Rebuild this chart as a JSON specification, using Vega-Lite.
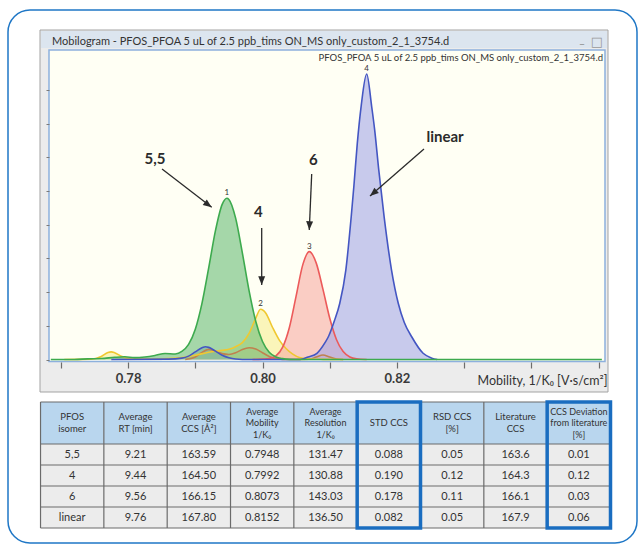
{
  "$schema": "https://vega.github.io/schema/vega-lite/v6.json",
  "width": 629,
  "height": 533,
  "autosize": {"type": "none"},
  "padding": {"left": 8, "top": 10, "right": 1, "bottom": 2},
  "background": "white",
  "config": {
    "view": {"stroke": "#1f77c6", "strokeWidth": 1.5, "cornerRadius": 22, "fill": "white"},
    "text": {"font": "Lato"}
  },
  "datasets": {
    "traces": [
      {"series": "background", "mobility": 0.7885, "intensity": 0},
      {"series": "background", "mobility": 0.79, "intensity": 150},
      {"series": "background", "mobility": 0.791, "intensity": 420},
      {"series": "background", "mobility": 0.792, "intensity": 600},
      {"series": "background", "mobility": 0.793, "intensity": 500},
      {"series": "background", "mobility": 0.794, "intensity": 350},
      {"series": "background", "mobility": 0.795, "intensity": 300},
      {"series": "background", "mobility": 0.796, "intensity": 400},
      {"series": "background", "mobility": 0.797, "intensity": 600},
      {"series": "background", "mobility": 0.798, "intensity": 700},
      {"series": "background", "mobility": 0.799, "intensity": 620},
      {"series": "background", "mobility": 0.8, "intensity": 400},
      {"series": "background", "mobility": 0.801, "intensity": 180},
      {"series": "background", "mobility": 0.802, "intensity": 50},
      {"series": "background", "mobility": 0.804, "intensity": 0},
      {"series": "background", "mobility": 0.807, "intensity": 20},
      {"series": "background", "mobility": 0.808, "intensity": 150},
      {"series": "background", "mobility": 0.809, "intensity": 270},
      {"series": "background", "mobility": 0.81, "intensity": 150},
      {"series": "background", "mobility": 0.811, "intensity": 30},
      {"series": "background", "mobility": 0.812, "intensity": 0},

      {"series": "4", "mobility": 0.7705, "intensity": 0},
      {"series": "4", "mobility": 0.7745, "intensity": 20},
      {"series": "4", "mobility": 0.776, "intensity": 180},
      {"series": "4", "mobility": 0.777, "intensity": 420},
      {"series": "4", "mobility": 0.7775, "intensity": 450},
      {"series": "4", "mobility": 0.778, "intensity": 400},
      {"series": "4", "mobility": 0.779, "intensity": 190},
      {"series": "4", "mobility": 0.78, "intensity": 60},
      {"series": "4", "mobility": 0.781, "intensity": 20},
      {"series": "4", "mobility": 0.7835, "intensity": 20},
      {"series": "4", "mobility": 0.786, "intensity": 50},
      {"series": "4", "mobility": 0.788, "intensity": 110},
      {"series": "4", "mobility": 0.79, "intensity": 250},
      {"series": "4", "mobility": 0.792, "intensity": 430},
      {"series": "4", "mobility": 0.794, "intensity": 540},
      {"series": "4", "mobility": 0.795, "intensity": 610},
      {"series": "4", "mobility": 0.796, "intensity": 760},
      {"series": "4", "mobility": 0.797, "intensity": 1000},
      {"series": "4", "mobility": 0.798, "intensity": 1550},
      {"series": "4", "mobility": 0.799, "intensity": 2450},
      {"series": "4", "mobility": 0.7997, "intensity": 2980},
      {"series": "4", "mobility": 0.8005, "intensity": 2750},
      {"series": "4", "mobility": 0.8015, "intensity": 1900},
      {"series": "4", "mobility": 0.8025, "intensity": 1150},
      {"series": "4", "mobility": 0.8035, "intensity": 650},
      {"series": "4", "mobility": 0.8045, "intensity": 320},
      {"series": "4", "mobility": 0.8055, "intensity": 120},
      {"series": "4", "mobility": 0.807, "intensity": 30},
      {"series": "4", "mobility": 0.809, "intensity": 10},
      {"series": "4", "mobility": 0.812, "intensity": 0},

      {"series": "6", "mobility": 0.7985, "intensity": 0},
      {"series": "6", "mobility": 0.8, "intensity": 20},
      {"series": "6", "mobility": 0.801, "intensity": 50},
      {"series": "6", "mobility": 0.802, "intensity": 210},
      {"series": "6", "mobility": 0.803, "intensity": 730},
      {"series": "6", "mobility": 0.804, "intensity": 1900},
      {"series": "6", "mobility": 0.805, "intensity": 3760},
      {"series": "6", "mobility": 0.806, "intensity": 5630},
      {"series": "6", "mobility": 0.80696, "intensity": 6400},
      {"series": "6", "mobility": 0.808, "intensity": 5720},
      {"series": "6", "mobility": 0.809, "intensity": 4160},
      {"series": "6", "mobility": 0.81, "intensity": 2460},
      {"series": "6", "mobility": 0.811, "intensity": 1190},
      {"series": "6", "mobility": 0.812, "intensity": 470},
      {"series": "6", "mobility": 0.813, "intensity": 150},
      {"series": "6", "mobility": 0.814, "intensity": 40},
      {"series": "6", "mobility": 0.8155, "intensity": 0},

      {"series": "linear", "mobility": 0.7775, "intensity": 0},
      {"series": "linear", "mobility": 0.786, "intensity": 20},
      {"series": "linear", "mobility": 0.788, "intensity": 80},
      {"series": "linear", "mobility": 0.789, "intensity": 200},
      {"series": "linear", "mobility": 0.79, "intensity": 450},
      {"series": "linear", "mobility": 0.791, "intensity": 700},
      {"series": "linear", "mobility": 0.7915, "intensity": 760},
      {"series": "linear", "mobility": 0.792, "intensity": 720},
      {"series": "linear", "mobility": 0.793, "intensity": 500},
      {"series": "linear", "mobility": 0.794, "intensity": 250},
      {"series": "linear", "mobility": 0.795, "intensity": 100},
      {"series": "linear", "mobility": 0.796, "intensity": 30},
      {"series": "linear", "mobility": 0.798, "intensity": 0},
      {"series": "linear", "mobility": 0.8056, "intensity": 0},
      {"series": "linear", "mobility": 0.8068, "intensity": 150},
      {"series": "linear", "mobility": 0.8081, "intensity": 370},
      {"series": "linear", "mobility": 0.8093, "intensity": 1000},
      {"series": "linear", "mobility": 0.8098, "intensity": 1350},
      {"series": "linear", "mobility": 0.8107, "intensity": 2300},
      {"series": "linear", "mobility": 0.8115, "intensity": 3340},
      {"series": "linear", "mobility": 0.8124, "intensity": 5310},
      {"series": "linear", "mobility": 0.8132, "intensity": 8470},
      {"series": "linear", "mobility": 0.8136, "intensity": 10300},
      {"series": "linear", "mobility": 0.8141, "intensity": 12800},
      {"series": "linear", "mobility": 0.8147, "intensity": 15100},
      {"series": "linear", "mobility": 0.8155, "intensity": 16940},
      {"series": "linear", "mobility": 0.81625, "intensity": 15000},
      {"series": "linear", "mobility": 0.8167, "intensity": 13600},
      {"series": "linear", "mobility": 0.8173, "intensity": 11250},
      {"series": "linear", "mobility": 0.8181, "intensity": 8470},
      {"series": "linear", "mobility": 0.8192, "intensity": 5310},
      {"series": "linear", "mobility": 0.8202, "intensity": 3340},
      {"series": "linear", "mobility": 0.8211, "intensity": 2200},
      {"series": "linear", "mobility": 0.8222, "intensity": 1350},
      {"series": "linear", "mobility": 0.8239, "intensity": 370},
      {"series": "linear", "mobility": 0.8252, "intensity": 80},
      {"series": "linear", "mobility": 0.826, "intensity": 0},

      {"series": "5,5", "mobility": 0.7685, "intensity": 0},
      {"series": "5,5", "mobility": 0.772, "intensity": 0},
      {"series": "5,5", "mobility": 0.774, "intensity": 40},
      {"series": "5,5", "mobility": 0.776, "intensity": 60},
      {"series": "5,5", "mobility": 0.778, "intensity": 130},
      {"series": "5,5", "mobility": 0.7795, "intensity": 160},
      {"series": "5,5", "mobility": 0.781, "intensity": 110},
      {"series": "5,5", "mobility": 0.7825, "intensity": 150},
      {"series": "5,5", "mobility": 0.784, "intensity": 240},
      {"series": "5,5", "mobility": 0.7855, "intensity": 360},
      {"series": "5,5", "mobility": 0.787, "intensity": 330},
      {"series": "5,5", "mobility": 0.788, "intensity": 480},
      {"series": "5,5", "mobility": 0.789, "intensity": 900},
      {"series": "5,5", "mobility": 0.79, "intensity": 1800},
      {"series": "5,5", "mobility": 0.791, "intensity": 3350},
      {"series": "5,5", "mobility": 0.792, "intensity": 5450},
      {"series": "5,5", "mobility": 0.793, "intensity": 7650},
      {"series": "5,5", "mobility": 0.794, "intensity": 9210},
      {"series": "5,5", "mobility": 0.7947, "intensity": 9570},
      {"series": "5,5", "mobility": 0.795, "intensity": 9500},
      {"series": "5,5", "mobility": 0.796, "intensity": 8390},
      {"series": "5,5", "mobility": 0.797, "intensity": 6330},
      {"series": "5,5", "mobility": 0.798, "intensity": 4090},
      {"series": "5,5", "mobility": 0.799, "intensity": 2260},
      {"series": "5,5", "mobility": 0.8, "intensity": 1070},
      {"series": "5,5", "mobility": 0.801, "intensity": 430},
      {"series": "5,5", "mobility": 0.802, "intensity": 150},
      {"series": "5,5", "mobility": 0.803, "intensity": 50},
      {"series": "5,5", "mobility": 0.804, "intensity": 10},
      {"series": "5,5", "mobility": 0.805, "intensity": 0},
      {"series": "5,5", "mobility": 0.8505, "intensity": 0}
    ],
    "annotations": [
      {"label": "5,5", "mobility": 0.784, "intensity": 11880, "fromMobility": 0.78505, "fromIntensity": 11300, "toMobility": 0.79244, "toIntensity": 9030},
      {"label": "4", "mobility": 0.79938, "intensity": 8770, "fromMobility": 0.79988, "fromIntensity": 7800, "toMobility": 0.79988, "toIntensity": 4420},
      {"label": "6", "mobility": 0.80756, "intensity": 11840, "fromMobility": 0.80732, "fromIntensity": 11010, "toMobility": 0.80696, "toIntensity": 7690},
      {"label": "linear", "mobility": 0.82716, "intensity": 13200, "fromMobility": 0.82403, "fromIntensity": 12490, "toMobility": 0.816, "toIntensity": 9700}
    ],
    "peaks": [
      {"peak": "1", "mobility": 0.7947, "intensity": 9570},
      {"peak": "2", "mobility": 0.7997, "intensity": 2980},
      {"peak": "3", "mobility": 0.80696, "intensity": 6400},
      {"peak": "4", "mobility": 0.8155, "intensity": 16940}
    ],
    "headers": [
      {"column": "PFOS isomer", "label": ["PFOS", "isomer"]},
      {"column": "Average RT", "label": ["Average", "RT [min]"]},
      {"column": "Average CCS", "label": ["Average", "CCS [Å²]"]},
      {"column": "Average Mobility", "label": ["Average", "Mobility", "1/K₀"]},
      {"column": "Average Resolution", "label": ["Average", "Resolution", "1/K₀"]},
      {"column": "STD CCS", "label": ["STD CCS"]},
      {"column": "RSD CCS", "label": ["RSD CCS", "[%]"]},
      {"column": "Literature CCS", "label": ["Literature", "CCS"]},
      {"column": "CCS Deviation", "label": ["CCS Deviation", "from literature", "[%]"]}
    ],
    "isomers": [
      {"PFOS isomer": "5,5", "Average RT": "9.21", "Average CCS": "163.59", "Average Mobility": "0.7948", "Average Resolution": "131.47", "STD CCS": "0.088", "RSD CCS": "0.05", "Literature CCS": "163.6", "CCS Deviation": "0.01"},
      {"PFOS isomer": "4", "Average RT": "9.44", "Average CCS": "164.50", "Average Mobility": "0.7992", "Average Resolution": "130.88", "STD CCS": "0.190", "RSD CCS": "0.12", "Literature CCS": "164.3", "CCS Deviation": "0.12"},
      {"PFOS isomer": "6", "Average RT": "9.56", "Average CCS": "166.15", "Average Mobility": "0.8073", "Average Resolution": "143.03", "STD CCS": "0.178", "RSD CCS": "0.11", "Literature CCS": "166.1", "CCS Deviation": "0.03"},
      {"PFOS isomer": "linear", "Average RT": "9.76", "Average CCS": "167.80", "Average Mobility": "0.8152", "Average Resolution": "136.50", "STD CCS": "0.082", "RSD CCS": "0.05", "Literature CCS": "167.9", "CCS Deviation": "0.06"}
    ],
    "rowEdges": [
      {"row": "h1"}, {"row": "5,5"}, {"row": "4"}, {"row": "6"}, {"row": "linear"}
    ],
    "highlighted": [
      {"column": "STD CCS"}, {"column": "CCS Deviation"}
    ]
  },
  "layer": [
    {
      "layer": [
        {
          "data": {"values": [{}]},
          "mark": {"type": "rect", "fill": "#ececec", "stroke": "#a3a3a3", "strokeWidth": 1},
          "encoding": {
            "x": {
              "datum": 0.76689, "type": "quantitative",
              "scale": {"domain": [0.762128, 0.855729], "nice": false, "zero": false},
              "axis": {
                "orient": "bottom", "offset": -181, "zindex": 2,
                "values": [0.77, 0.78, 0.79, 0.8, 0.81, 0.82, 0.83, 0.84, 0.85],
                "format": ".2f",
                "labelExpr": "indexof(['0.78', '0.80', '0.82'], datum.label) >= 0 ? datum.label : ''",
                "domain": false, "grid": false,
                "tickSize": 6, "tickColor": "#6d6d6d", "tickWidth": 1.2,
                "labelFont": "Lato", "labelFontSize": 13, "labelFontWeight": "bold", "labelColor": "#3a3a3a",
                "labelPadding": 4, "labelFlush": false, "labelOverlap": false,
                "title": "Mobility, 1/K₀ [V·s/cm²]",
                "titleFont": "Lato", "titleFontSize": 12.5, "titleFontWeight": "normal", "titleColor": "#333333",
                "titleX": 599, "titleY": 18, "titleAlign": "right", "titleBaseline": "middle"
              }
            },
            "x2": {"datum": 0.851414},
            "y": {
              "datum": 19555, "type": "quantitative",
              "scale": {"domain": [-10890, 20742], "nice": false, "zero": false},
              "axis": {
                "orient": "left", "offset": -41, "zindex": 2,
                "values": [0, 1000, 2000, 3000, 4000, 5000, 6000, 7000, 8000, 9000, 10000, 11000, 12000, 13000, 14000, 15000, 16000, 17000],
                "labels": false, "domain": false, "grid": false,
                "tickSize": 3, "tickColor": "#7a7a7a", "title": null
              }
            },
            "y2": {"datum": -1929}
          }
        },
        {
          "data": {"values": [{}]},
          "mark": {"type": "rect", "fill": "#dce5ef"},
          "encoding": {
            "x": {"datum": 0.767039, "type": "quantitative"},
            "x2": {"datum": 0.851265},
            "y": {"datum": 19496, "type": "quantitative"},
            "y2": {"datum": 18487}
          }
        },
        {
          "data": {"values": [{}]},
          "mark": {"type": "rect", "fill": "#fffff4", "stroke": "#8db0dd", "strokeWidth": 1.5},
          "encoding": {
            "x": {"datum": 0.768229, "type": "quantitative"},
            "x2": {"datum": 0.850967},
            "y": {"datum": 18368, "type": "quantitative"},
            "y2": {"datum": -119}
          }
        },
        {
          "data": {"name": "traces"},
          "mark": {"type": "area", "interpolate": "monotone", "fillOpacity": 0.6},
          "encoding": {
            "x": {"field": "mobility", "type": "quantitative"},
            "y": {"field": "intensity", "type": "quantitative", "stack": null},
            "y2": {"datum": 0},
            "fill": {
              "field": "series", "type": "nominal",
              "scale": {"domain": ["background", "4", "6", "linear", "5,5"], "range": ["#e6bc9b", "#f7ee93", "#f7aca3", "#a3a7e6", "#69bc76"]},
              "legend": null
            }
          }
        },
        {
          "data": {"name": "traces"},
          "mark": {"type": "line", "interpolate": "monotone", "strokeWidth": 1.6},
          "encoding": {
            "x": {"field": "mobility", "type": "quantitative"},
            "y": {"field": "intensity", "type": "quantitative"},
            "stroke": {
              "field": "series", "type": "nominal",
              "scale": {"domain": ["background", "4", "6", "linear", "5,5"], "range": ["#c0814e", "#f0c830", "#ec5a5a", "#4456c2", "#3daa4e"]},
              "legend": null
            }
          }
        },
        {
          "data": {"name": "annotations"},
          "mark": {"type": "rule", "color": "#2b2b2b", "strokeWidth": 1.3},
          "encoding": {
            "x": {"field": "fromMobility", "type": "quantitative"},
            "y": {"field": "fromIntensity", "type": "quantitative"},
            "x2": {"field": "toMobility"},
            "y2": {"field": "toIntensity"}
          }
        },
        {
          "data": {"name": "annotations"},
          "mark": {"type": "point", "filled": true, "color": "#2b2b2b", "size": 300, "opacity": 1, "strokeWidth": 0},
          "encoding": {
            "x": {"field": "toMobility", "type": "quantitative"},
            "y": {"field": "toIntensity", "type": "quantitative"},
            "shape": {
              "field": "label", "type": "nominal",
              "scale": {
                "domain": ["5,5", "4", "6", "linear"],
                "range": ["M0,0L-1.04,-0.28L-0.56,-0.92Z", "M0,0L-0.4,-1L0.4,-1Z", "M0,0L-0.36,-1.02L0.44,-0.98Z", "M0,0L0.5,-0.95L1.02,-0.34Z"]
              },
              "legend": null
            }
          }
        },
        {
          "data": {"name": "annotations"},
          "mark": {"type": "text", "font": "Lato", "fontSize": 15, "fontWeight": "bold", "color": "#2b2b2b", "align": "center", "baseline": "middle"},
          "encoding": {
            "x": {"field": "mobility", "type": "quantitative"},
            "y": {"field": "intensity", "type": "quantitative"},
            "text": {"field": "label", "type": "nominal"}
          }
        },
        {
          "data": {"name": "peaks"},
          "mark": {"type": "text", "font": "Lato", "fontSize": 8, "color": "#333333", "align": "center", "baseline": "bottom", "dy": -1},
          "encoding": {
            "x": {"field": "mobility", "type": "quantitative"},
            "y": {"field": "intensity", "type": "quantitative"},
            "text": {"field": "peak", "type": "nominal"}
          }
        },
        {
          "data": {"values": [{}]},
          "mark": {"type": "text", "text": "Mobilogram - PFOS_PFOA  5 uL of 2.5 ppb_tims ON_MS only_custom_2_1_3754.d", "font": "Lato", "fontSize": 11, "color": "#333333", "align": "left", "baseline": "middle"},
          "encoding": {
            "x": {"datum": 0.768676, "type": "quantitative"},
            "y": {"datum": 18861, "type": "quantitative"}
          }
        },
        {
          "data": {"values": [{}]},
          "mark": {"type": "text", "text": "PFOS_PFOA  5 uL of 2.5 ppb_tims ON_MS only_custom_2_1_3754.d", "font": "Lato", "fontSize": 9.5, "color": "#333333", "align": "right", "baseline": "middle"},
          "encoding": {
            "x": {"datum": 0.85067, "type": "quantitative"},
            "y": {"datum": 17900, "type": "quantitative"}
          }
        },
        {
          "data": {"values": [{}]},
          "mark": {"type": "text", "text": "_", "font": "Lato", "fontSize": 11, "color": "#888888", "align": "center", "baseline": "middle"},
          "encoding": {
            "x": {"datum": 0.847545, "type": "quantitative"},
            "y": {"datum": 18980, "type": "quantitative"}
          }
        },
        {
          "data": {"values": [{}]},
          "mark": {"type": "text", "text": "□", "font": "DejaVu Sans", "fontSize": 13, "color": "#9a9a9a", "align": "center", "baseline": "middle"},
          "encoding": {
            "x": {"datum": 0.849777, "type": "quantitative"},
            "y": {"datum": 18861, "type": "quantitative"}
          }
        }
      ]
    },
    {
      "layer": [
        {
          "data": {"name": "headers"},
          "mark": {"type": "rect", "fill": "#b9d6ee"},
          "encoding": {
            "x": {
              "field": "column", "type": "nominal",
              "scale": {
                "type": "band",
                "domain": ["PFOS isomer", "Average RT", "Average CCS", "Average Mobility", "Average Resolution", "STD CCS", "RSD CCS", "Literature CCS", "CCS Deviation"],
                "paddingInner": 0, "paddingOuter": 0.466, "align": 0.551
              },
              "axis": null
            },
            "y": {
              "datum": "h1", "type": "nominal",
              "scale": {
                "type": "band",
                "domain": ["h1", "h2", "5,5", "4", "6", "linear"],
                "paddingInner": 0, "range": [392, 518]
              },
              "axis": null
            }
          }
        },
        {
          "data": {"name": "headers"},
          "mark": {"type": "rect", "fill": "#b9d6ee"},
          "encoding": {
            "x": {"field": "column", "type": "nominal"},
            "y": {"datum": "h2", "type": "nominal"}
          }
        },
        {
          "data": {"name": "isomers"},
          "transform": [
            {"fold": ["PFOS isomer", "Average RT", "Average CCS", "Average Mobility", "Average Resolution", "STD CCS", "RSD CCS", "Literature CCS", "CCS Deviation"], "as": ["column", "text"]}
          ],
          "mark": {"type": "rect", "fill": "#ececec"},
          "encoding": {
            "x": {"field": "column", "type": "nominal"},
            "y": {"field": "PFOS isomer", "type": "nominal"}
          }
        },
        {
          "data": {"name": "headers"},
          "mark": {"type": "rule", "color": "#6b6b6b", "strokeWidth": 1.2},
          "encoding": {
            "x": {"field": "column", "type": "nominal", "bandPosition": 0},
            "y": {"datum": "h1", "type": "nominal", "bandPosition": 0},
            "y2": {"datum": "linear", "bandPosition": 1}
          }
        },
        {
          "data": {"values": [{}]},
          "mark": {"type": "rule", "color": "#6b6b6b", "strokeWidth": 1.2},
          "encoding": {
            "x": {"datum": "CCS Deviation", "type": "nominal", "bandPosition": 1},
            "y": {"datum": "h1", "type": "nominal", "bandPosition": 0},
            "y2": {"datum": "linear", "bandPosition": 1}
          }
        },
        {
          "data": {"name": "rowEdges"},
          "mark": {"type": "rule", "color": "#6b6b6b", "strokeWidth": 1.2},
          "encoding": {
            "y": {"field": "row", "type": "nominal", "bandPosition": 0},
            "x": {"datum": "PFOS isomer", "type": "nominal", "bandPosition": 0},
            "x2": {"datum": "CCS Deviation", "bandPosition": 1}
          }
        },
        {
          "data": {"values": [{}]},
          "mark": {"type": "rule", "color": "#6b6b6b", "strokeWidth": 1.2},
          "encoding": {
            "y": {"datum": "linear", "type": "nominal", "bandPosition": 1},
            "x": {"datum": "PFOS isomer", "type": "nominal", "bandPosition": 0},
            "x2": {"datum": "CCS Deviation", "bandPosition": 1}
          }
        },
        {
          "data": {"name": "headers"},
          "transform": [{"filter": "length(datum.label) == 1"}],
          "mark": {"type": "text", "font": "Lato", "fontSize": 9.5, "lineHeight": 11.5, "color": "#333333", "align": "center", "baseline": "middle"},
          "encoding": {
            "x": {"field": "column", "type": "nominal"},
            "y": {"datum": "h2", "type": "nominal", "bandPosition": 0},
            "text": {"field": "label", "type": "nominal"}
          }
        },
        {
          "data": {"name": "headers"},
          "transform": [{"filter": "length(datum.label) == 2"}],
          "mark": {"type": "text", "font": "Lato", "fontSize": 9.5, "lineHeight": 11.5, "color": "#333333", "align": "center", "baseline": "middle", "dy": -5.75},
          "encoding": {
            "x": {"field": "column", "type": "nominal"},
            "y": {"datum": "h2", "type": "nominal", "bandPosition": 0},
            "text": {"field": "label", "type": "nominal"}
          }
        },
        {
          "data": {"name": "headers"},
          "transform": [{"filter": "length(datum.label) == 3"}],
          "mark": {"type": "text", "font": "Lato", "fontSize": 9, "lineHeight": 11.5, "color": "#333333", "align": "center", "baseline": "middle", "dy": -11.5},
          "encoding": {
            "x": {"field": "column", "type": "nominal"},
            "y": {"datum": "h2", "type": "nominal", "bandPosition": 0},
            "text": {"field": "label", "type": "nominal"}
          }
        },
        {
          "data": {"name": "isomers"},
          "transform": [
            {"fold": ["PFOS isomer", "Average RT", "Average CCS", "Average Mobility", "Average Resolution", "STD CCS", "RSD CCS", "Literature CCS", "CCS Deviation"], "as": ["column", "text"]}
          ],
          "mark": {"type": "text", "font": "Lato", "fontSize": 11, "color": "#333333", "align": "center", "baseline": "middle"},
          "encoding": {
            "x": {"field": "column", "type": "nominal"},
            "y": {"field": "PFOS isomer", "type": "nominal"},
            "text": {"field": "text", "type": "nominal"}
          }
        },
        {
          "data": {"name": "highlighted"},
          "mark": {"type": "rect", "fill": null, "fillOpacity": 0, "stroke": "#1a6dc0", "strokeWidth": 3.5},
          "encoding": {
            "x": {"field": "column", "type": "nominal"},
            "y": {"datum": "h1", "type": "nominal", "bandPosition": 0},
            "y2": {"datum": "linear", "bandPosition": 1}
          }
        }
      ]
    }
  ],
  "resolve": {"scale": {"x": "independent", "y": "independent"}, "axis": {"x": "independent", "y": "independent"}}
}
